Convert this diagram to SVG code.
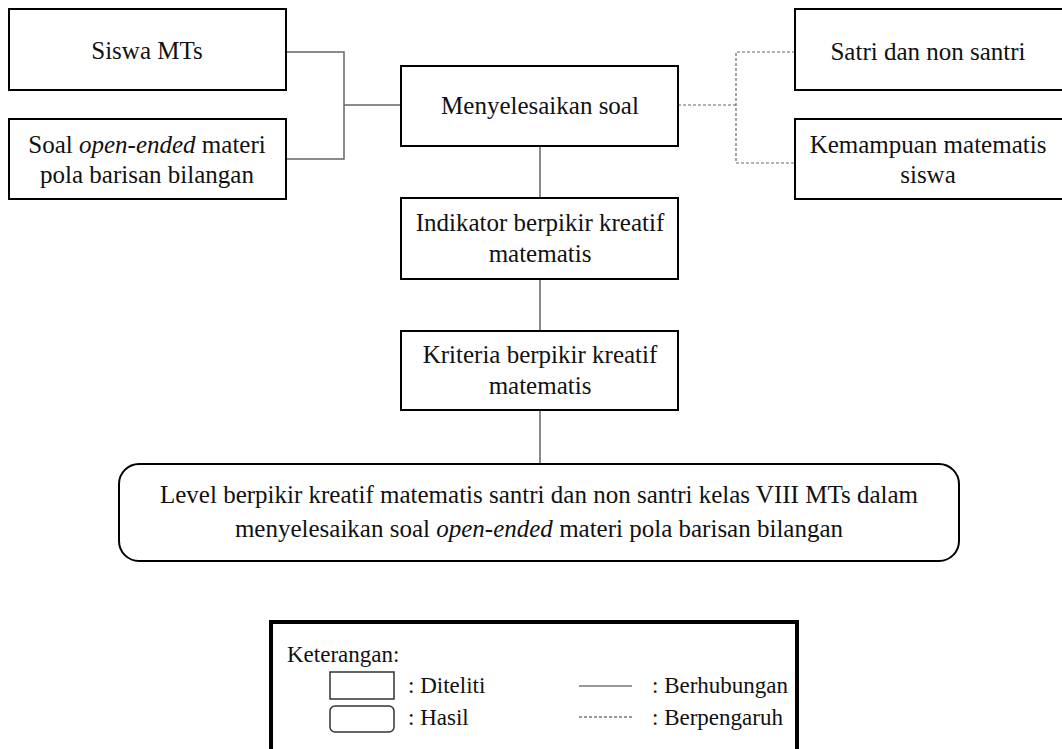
<svg xmlns="http://www.w3.org/2000/svg" width="1062" height="749" viewBox="0 0 1062 749">
<style>
.box{fill:#fff;stroke:#000;stroke-width:2}
.t{font-size:25px;fill:#111;text-anchor:middle}
.lt{font-size:23px;fill:#111}
.solid{fill:none;stroke:#666;stroke-width:1.5}
.dash{fill:none;stroke:#666;stroke-width:1.2;stroke-dasharray:3,2}
</style>
<rect width="1062" height="749" fill="#fff"/>
<g id="connectors">
<path class="solid" d="M286 52 H344 V159 H286 M344 105 H401"/>
<path class="solid" d="M540 146 V198 M540 279 V331 M540 410 V464"/>
<path class="dash" d="M678 105 H736 M795 52 H736 V163 H795"/>
</g>
<g font-family="Liberation Serif, DejaVu Serif, serif">
<g id="siswa"><rect class="box" x="9" y="9" width="277" height="81"/><text class="t" x="147" y="59">Siswa MTs</text></g>
<g id="soal"><rect class="box" x="9" y="119" width="277" height="80"/><text class="t" x="147" y="153">Soal <tspan font-style="italic">open-ended</tspan> materi</text><text class="t" x="147" y="183">pola barisan bilangan</text></g>
<g id="menyelesaikan"><rect class="box" x="401" y="66" width="277" height="80"/><text class="t" x="540" y="114">Menyelesaikan soal</text></g>
<g id="santri"><rect class="box" x="795" y="9" width="270" height="81"/><text class="t" x="928" y="60">Satri dan non santri</text></g>
<g id="kemampuan"><rect class="box" x="795" y="119" width="270" height="80"/><text class="t" x="928" y="153">Kemampuan matematis</text><text class="t" x="928" y="183">siswa</text></g>
<g id="indikator"><rect class="box" x="401" y="198" width="277" height="81"/><text class="t" x="540" y="231">Indikator berpikir kreatif</text><text class="t" x="540" y="262">matematis</text></g>
<g id="kriteria"><rect class="box" x="401" y="331" width="277" height="79"/><text class="t" x="540" y="363">Kriteria berpikir kreatif</text><text class="t" x="540" y="394">matematis</text></g>
<g id="level"><rect class="box" x="119" y="464" width="840" height="97" rx="20"/><text class="t" x="539" y="503">Level berpikir kreatif matematis santri dan non santri kelas VIII MTs dalam</text><text class="t" x="539" y="537">menyelesaikan soal <tspan font-style="italic">open-ended</tspan> materi pola barisan bilangan</text></g>
<g id="legend">
<rect x="271" y="622" width="526" height="140" fill="#fff" stroke="#000" stroke-width="4"/>
<text class="lt" x="287" y="662">Keterangan:</text>
<rect x="330" y="672" width="64" height="27" fill="#fff" stroke="#333" stroke-width="1.5"/>
<rect x="330" y="706" width="64" height="26" rx="5" fill="#fff" stroke="#333" stroke-width="1.5"/>
<text class="lt" x="408" y="693">: Diteliti</text>
<text class="lt" x="408" y="725">: Hasil</text>
<line x1="579" y1="686" x2="632" y2="686" stroke="#333" stroke-width="1.2"/>
<line x1="579" y1="717" x2="632" y2="717" stroke="#333" stroke-width="1" stroke-dasharray="3,2"/>
<text class="lt" x="652" y="693">: Berhubungan</text>
<text class="lt" x="652" y="725">: Berpengaruh</text>
</g>
</g>
</svg>
